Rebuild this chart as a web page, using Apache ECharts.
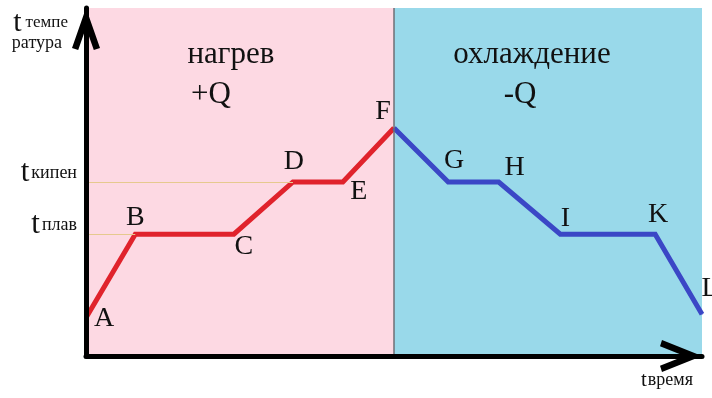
<!DOCTYPE html>
<html><head><meta charset="utf-8">
<script src="https://cdn.jsdelivr.net/npm/echarts@6/dist/echarts.min.js"></script>
<style>html,body{margin:0;padding:0;background:#fff}#c{width:712px;height:398px}</style>
</head><body><div id="c"></div>
<script>
// ---- data ----
const heatNames = ['A', 'B', 'C', 'D', 'E', 'F'];
const heatTime  = [0, 8, 24, 33.6, 41.7, 50];
const heatTemp  = [11, 35, 35, 50, 50, 65.5];
const coolNames = ['F', 'G', 'H', 'I', 'K', 'L'];
const coolTime  = [50, 58.8, 67, 77, 92.4, 100];
const coolTemp  = [65.5, 50, 50, 35, 35, 12];
const meltTemp = 35;
const boilTemp = 50;
const yTickValues = [meltTemp, boilTemp];
const yTickLabels = ['плав', 'кипен'];
const phaseSplit = 50;
const xMin = 0, xMax = 100, yMin = 0, yMax = 100;
const heatTitle = ['нагрев', '+Q'];
const coolTitle = ['охлаждение', '-Q'];
const yName = ['t', 'темпе', 'ратура'];
const xName = ['t', 'время'];

// ---- styles ----
const SERIF = 'Liberation Serif';
const labelOffsets = {A:[18,1],B:[0,-17],C:[10,12],D:[1,-20],E:[16,10],F:[-11,-16],
  G:[6,-21],H:[16,-14],I:[5,-16],K:[3,-20],L:[8,-26]};
const RED = '#e0232c', BLUE = '#3b47c6';
const arrowY = 'path://M14 0 L28 40 L21.8 42 L14 19.7 L6.2 42 L0 40 Z';
const arrowX = 'path://M16 0 L32 40 L25.8 42 L16 17.5 L6.2 42 L0 40 Z';

function pts(times, temps, names, skipFirst) {
  return times.map((t, i) => ({
    value: [t, temps[i]], name: names[i],
    label: { show: !(skipFirst && i === 0), offset: labelOffsets[names[i]] }
  }));
}

const pointLabel = { show: true, position: 'inside', formatter: '{b}',
  fontFamily: SERIF, fontSize: 28, color: '#111' };

const chart = echarts.init(document.getElementById('c'), null, {renderer: 'canvas'});
chart.setOption({
  animation: false,
  backgroundColor: '#fff',
  grid: { left: 86, right: 10, top: 8, bottom: 42, containLabel: false, outerBoundsMode: 'none' },
  xAxis: {
    type: 'value', min: xMin, max: xMax, z: 5,
    axisLine: { show: true, onZero: false, lineStyle: { color: '#000', width: 5 },
      symbol: ['none', arrowX], symbolSize: [32, 42], symbolOffset: [0, -21] },
    axisTick: { show: false }, axisLabel: { show: false }, splitLine: { show: false },
    name: '{t|' + xName[0] + '}{s|' + xName[1] + '}',
    nameLocation: 'end', nameGap: -9,
    nameTextStyle: { align: 'right', verticalAlign: 'top', padding: [14, 0, 0, 0],
      rich: { t: { fontFamily: SERIF, fontSize: 21, color: '#111', padding: [0, 1, 0, 0] },
              s: { fontFamily: SERIF, fontSize: 18, color: '#111', lineHeight: 12 } } }
  },
  yAxis: {
    type: 'value', min: yMin, max: yMax, z: 5,
    axisLine: { show: true, onZero: false, lineStyle: { color: '#000', width: 5 },
      symbol: ['none', arrowY], symbolSize: [28, 42], symbolOffset: [0, -21] },
    axisTick: { show: false }, splitLine: { show: false },
    axisLabel: {
      show: true, customValues: yTickValues, margin: 9, padding: [0, 0, 18, 0],
      formatter: function (v) {
        const i = yTickValues.indexOf(v);
        return '{t|t}{s|' + (i >= 0 ? yTickLabels[i] : '') + '}';
      },
      rich: { t: { fontFamily: SERIF, fontSize: 31, color: '#111', padding: [0, 2, 0, 0] },
              s: { fontFamily: SERIF, fontSize: 18, color: '#111', lineHeight: 18 } }
    },
    name: '{t|' + yName[0] + '}{s|' + yName[1] + '}\n{r|' + yName[2] + '}',
    nameLocation: 'end', nameGap: 0,
    nameTextStyle: { align: 'right', verticalAlign: 'top', padding: [0, 18, 0, 0],
      rich: { t: { fontFamily: SERIF, fontSize: 30, color: '#111', padding: [0, 4, 0, 0] },
              s: { fontFamily: SERIF, fontSize: 17, color: '#111' },
              r: { fontFamily: SERIF, fontSize: 18, color: '#111', lineHeight: 10, padding: [0, 6, 0, 0] } } }
  },
  series: [
    {
      type: 'line', z: 1, data: [], silent: true,
      markArea: {
        silent: true,
        data: [
          [{ xAxis: xMin, itemStyle: { color: '#fdd9e3' },
             label: { show: true, position: 'insideTop', distance: 27, offset: [-9, 0],
               formatter: '{a|' + heatTitle[0] + '}\n{b|' + heatTitle[1] + '}',
               rich: { a: { fontFamily: SERIF, fontSize: 31, color: '#111', lineHeight: 40 },
                       b: { fontFamily: SERIF, fontSize: 31, color: '#111', lineHeight: 40, padding: [0, 40, 0, 0] } } } },
           { xAxis: phaseSplit }],
          [{ xAxis: phaseSplit, itemStyle: { color: '#99d9ea' },
             label: { show: true, position: 'insideTop', distance: 27, offset: [-16, 0],
               formatter: '{a|' + coolTitle[0] + '}\n{b|' + coolTitle[1] + '}',
               rich: { a: { fontFamily: SERIF, fontSize: 31, color: '#111', lineHeight: 40 },
                       b: { fontFamily: SERIF, fontSize: 31, color: '#111', lineHeight: 40, padding: [0, 24, 0, 0] } } } },
           { xAxis: xMax }]
        ]
      },
      markLine: {
        silent: true, symbol: 'none', label: { show: false },
        data: [
          { xAxis: phaseSplit, lineStyle: { color: '#6e6e74', width: 1.5, type: 'solid' } },
          [{ coord: [xMin, boilTemp], lineStyle: { color: '#e6c98e', width: 1, type: 'solid' } },
           { coord: [heatTime[3], boilTemp] }],
          [{ coord: [xMin, meltTemp], lineStyle: { color: '#e6c98e', width: 1, type: 'solid' } },
           { coord: [heatTime[1], meltTemp] }]
        ]
      }
    },
    {
      type: 'line', z: 3, clip: false, silent: true,
      data: pts(heatTime, heatTemp, heatNames, false),
      symbol: 'circle', symbolSize: 1, showSymbol: true,
      itemStyle: { color: RED },
      lineStyle: { color: RED, width: 5, join: 'miter' },
      label: pointLabel
    },
    {
      type: 'line', z: 3, clip: false, silent: true,
      data: pts(coolTime, coolTemp, coolNames, true),
      symbol: 'circle', symbolSize: 1, showSymbol: true,
      itemStyle: { color: BLUE },
      lineStyle: { color: BLUE, width: 5, join: 'miter' },
      label: pointLabel
    }
  ]
});
</script>
</body></html>
